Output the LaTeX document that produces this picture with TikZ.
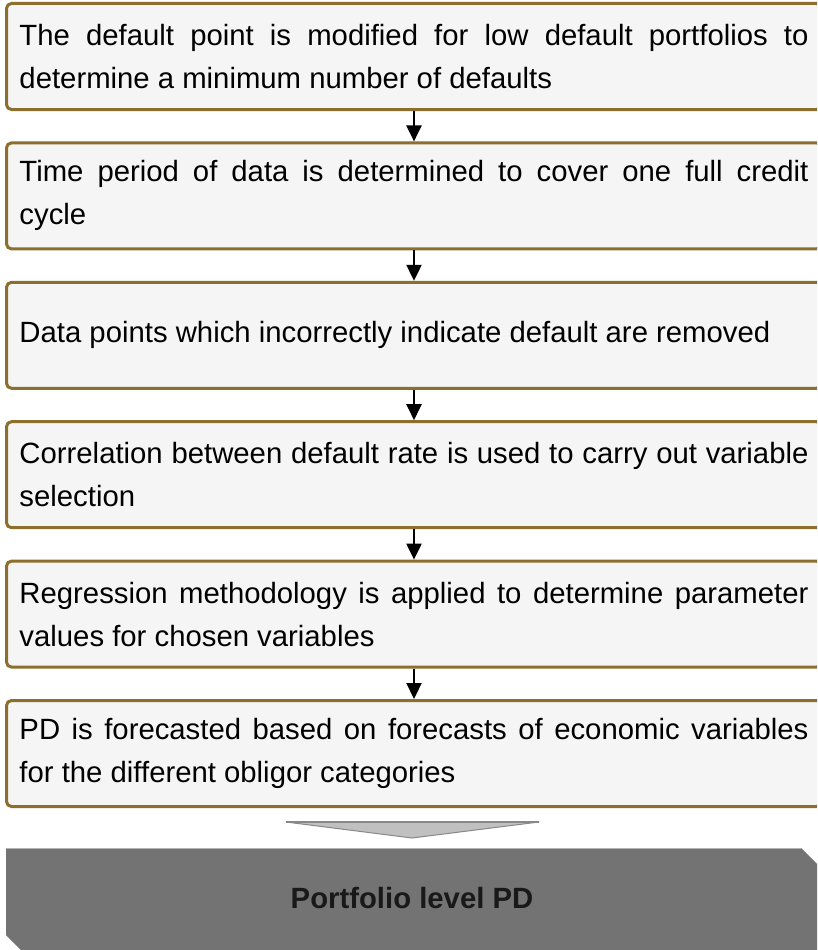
\documentclass[tikz,border=0pt]{standalone}
\usepackage{fontspec}
\setmainfont{Liberation Sans}
\usetikzlibrary{arrows.meta}
\definecolor{stepedge}{RGB}{140,110,45}
\definecolor{stepfill}{RGB}{245,245,245}
\definecolor{funnelfill}{RGB}{192,192,192}
\definecolor{funneledge}{RGB}{136,136,136}
\definecolor{resultfill}{RGB}{115,115,115}
\hyphenpenalty=10000
\exhyphenpenalty=10000
\tikzset{
  stepbox/.style={draw=stepedge, fill=stepfill, line width=3pt, rounded corners=5pt,
    anchor=north west, text width=789pt, minimum height=106pt,
    inner xsep=13pt, inner ysep=0pt, align=justify,
    font=\fontsize{29.3}{43}\selectfont},
  flowarrow/.style={line width=2.2pt, -{Triangle[width=15pt,length=16pt]}}
}
\begin{document}
\begin{tikzpicture}[x=1pt,y=-1pt]
\useasboundingbox (0,0) rectangle (817,950);
\clip (0,0) rectangle (817,950);
\fill[white] (0,0) rectangle (817,950);

% process steps (first lines stretched to the full width)
\node[stepbox] (s1) at (5,2) {The default point is modified for low default portfolios to\linebreak determine a minimum number of defaults};
\node[stepbox] (s2) at (5,141.4) {Time period of data is determined to cover one full credit\linebreak cycle};
\node[stepbox] (s3) at (5,280.8) {Data points which incorrectly indicate default are removed};
\node[stepbox] (s4) at (5,420.2) {Correlation between default rate is used to carry out variable\linebreak selection};
\node[stepbox] (s5) at (5,559.6) {Regression methodology is applied to determine parameter\linebreak values for chosen variables};
\node[stepbox] (s6) at (5,699) {PD is forecasted based on forecasts of economic variables\linebreak for the different obligor categories};

% connectors between steps
\draw[flowarrow] (s1.south) -- (s2.north);
\draw[flowarrow] (s2.south) -- (s3.north);
\draw[flowarrow] (s3.south) -- (s4.north);
\draw[flowarrow] (s4.south) -- (s5.north);
\draw[flowarrow] (s5.south) -- (s6.north);

% funnel marker
\draw[fill=funnelfill, draw=funneledge, line width=1pt, line join=round]
  (286,822) -- (539,822) -- (412,838) -- cycle;
\draw[funneledge, line width=2.5pt] (286,822) -- (539,822);

% result banner
\fill[resultfill] (6,848) -- (801,848) -- (823,870) -- (823,955) -- (26,955) -- (6,935) -- cycle;
\draw[gray!60, line width=1pt] (6,848) -- (801,848);
\node[font=\fontsize{29.3}{36}\selectfont\bfseries, text=black!90] (res) at (412,898) {Portfolio level PD};
\end{tikzpicture}
\end{document}
